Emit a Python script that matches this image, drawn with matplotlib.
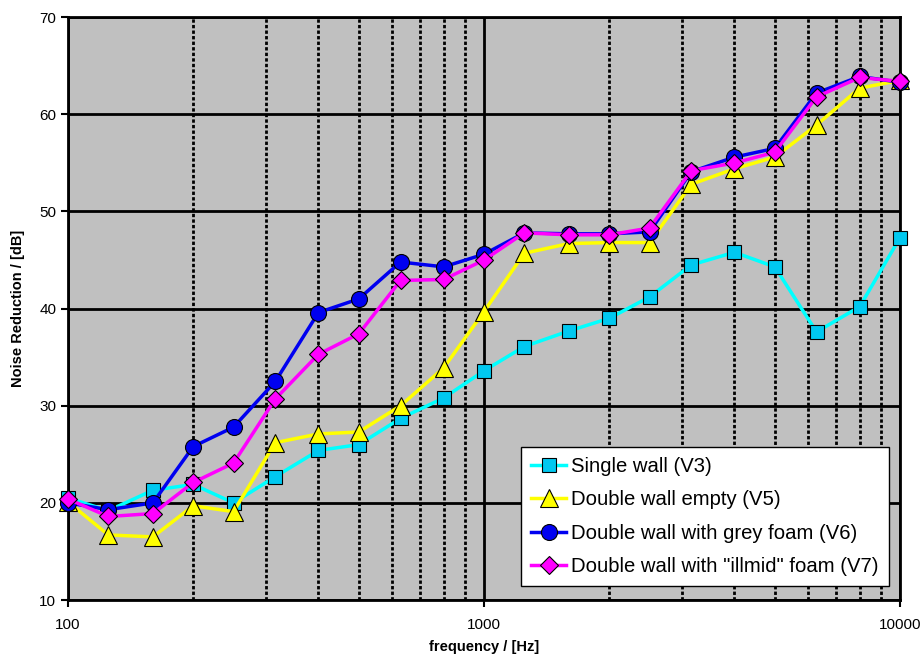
import matplotlib
matplotlib.use("Agg")
import matplotlib.pyplot as plt
from matplotlib.ticker import FixedLocator, NullFormatter

plt.rcParams['font.family'] = ['Liberation Sans', 'DejaVu Sans']

freqs = [100, 125, 160, 200, 250, 315, 400, 500, 630, 800, 1000, 1250, 1600,
         2000, 2500, 3150, 4000, 5000, 6300, 8000, 10000]
single_wall = [20.5, 19.2, 21.3, 21.9, 20.0, 22.7, 25.4, 26.0, 28.7, 30.8, 33.6,
               36.1, 37.7, 39.0, 41.2, 44.5, 45.8, 44.3, 37.6, 40.2, 47.3]
double_empty = [20.1, 16.7, 16.5, 19.7, 19.1, 26.2, 27.1, 27.3, 30.0, 33.9, 39.7,
                45.7, 46.7, 46.8, 46.8, 52.8, 54.4, 55.6, 58.9, 62.7, 63.5]
grey_foam = [20.0, 19.3, 20.0, 25.8, 27.8, 32.5, 39.6, 41.0, 44.8, 44.3, 45.6,
             47.8, 47.7, 47.7, 47.9, 54.1, 55.6, 56.5, 62.2, 63.9, 63.3]
illmid_foam = [20.4, 18.6, 18.9, 22.1, 24.1, 30.7, 35.3, 37.4, 42.9, 43.0, 45.0,
               47.8, 47.6, 47.6, 48.3, 54.2, 55.0, 56.1, 61.8, 63.8, 63.4]
labels = ['Single wall (V3)', 'Double wall empty (V5)',
          'Double wall with grey foam (V6)', 'Double wall with "illmid" foam (V7)']

fig = plt.figure(figsize=(9.22, 6.63), dpi=100)
ax = fig.add_axes([68 / 922, 0.095, (900 - 68) / 922, 0.879])
ax.set_facecolor('#C0C0C0')

ax.set_xscale('log')
ax.set_xlim(100, 10000)
ax.set_ylim(10, 70)
ax.set_yticks(range(10, 71, 10))
ax.set_xticks([100, 1000, 10000])
ax.set_xticklabels(['100', '1000', '10000'])
minor = [m * d for d in (100, 1000) for m in range(2, 10)]
ax.xaxis.set_minor_locator(FixedLocator(minor))
ax.xaxis.set_minor_formatter(NullFormatter())
ax.tick_params(axis='x', which='minor', length=0)
ax.tick_params(axis='both', which='major', length=5, width=1.5, labelsize=11, colors='black')
ax.tick_params(axis='x', pad=8)

ax.grid(True, which='major', axis='both', color='black', linewidth=2, linestyle='-')
ax.grid(True, which='minor', axis='x', color='black', linewidth=2, linestyle=(0, (1.2, 0.8)))
ax.set_axisbelow(True)
for s in ax.spines.values():
    s.set_linewidth(2)
    s.set_color('black')

series = [
    (single_wall, '#00FFFF', '#00C8F0', 's', 10.5),
    (double_empty, '#FFFF00', '#FFFF00', '^', 12.5),
    (grey_foam, '#0000F0', '#0000F0', 'o', 11.5),
    (illmid_foam, '#FF00FF', '#FF00FF', 'D', 9),
]
for (vals, lc, fc, mk, ms), lab in zip(series, labels):
    ax.plot(freqs, vals, color=lc, linewidth=2.5, marker=mk, markersize=ms,
            markerfacecolor=fc, markeredgecolor='black', markeredgewidth=0.8,
            label=lab, clip_on=False, zorder=3)

leg = ax.legend(loc='lower right', bbox_to_anchor=(1 - 11 / 832, 14 / 583), fontsize=14.6,
                frameon=True, fancybox=False, edgecolor='black', facecolor='white',
                framealpha=1, handlelength=1.75, borderpad=0.5, labelspacing=0.7,
                handletextpad=0.25, borderaxespad=0)
leg.get_frame().set_linewidth(1)

ax.set_xlabel('frequency / [Hz]', fontsize=10.5, fontweight='bold', labelpad=6)
ax.set_ylabel('Noise Reduction / [dB]', fontsize=10.5, fontweight='bold', labelpad=10)

fig.savefig('out.png', dpi=100, facecolor='white')
